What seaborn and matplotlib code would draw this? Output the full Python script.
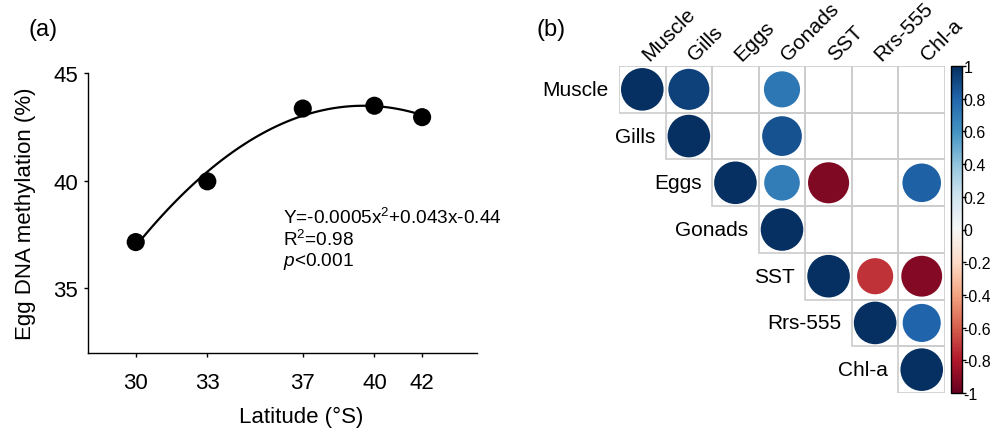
import numpy as np
import pandas as pd
import matplotlib
matplotlib.use("Agg")
import matplotlib.pyplot as plt
from matplotlib.patches import Rectangle
import seaborn as sns

# ---------------- data ----------------
latitude = [30, 33, 37, 40, 42]
methylation = [37.15, 39.97, 43.35, 43.48, 42.95]
x_ticks = [30, 33, 37, 40, 42]
y_ticks = [35, 40, 45]

variables = ["Muscle", "Gills", "Eggs", "Gonads", "SST", "Rrs-555", "Chl-a"]
nan = np.nan
corr = [
    [1.00, 0.93, nan, 0.72, nan, nan, nan],
    [nan, 1.00, nan, 0.87, nan, nan, nan],
    [nan, nan, 1.00, 0.70, -0.93, nan, 0.82],
    [nan, nan, nan, 1.00, nan, nan, nan],
    [nan, nan, nan, nan, 1.00, -0.72, -0.92],
    [nan, nan, nan, nan, nan, 1.00, 0.80],
    [nan, nan, nan, nan, nan, nan, 1.00],
]
cbar_ticks = [-1, -0.8, -0.6, -0.4, -0.2, 0, 0.2, 0.4, 0.6, 0.8, 1]
cbar_labels = ["-1", "-0.8", "-0.6", "-0.4", "-0.2", "0", "0.2", "0.4", "0.6", "0.8", "1"]

# ---------------- style ----------------
sns.set_theme(style="white")
plt.rcParams["font.family"] = ["Liberation Sans", "DejaVu Sans"]
plt.rcParams["mathtext.fontset"] = "custom"
plt.rcParams["mathtext.rm"] = "Liberation Sans"
plt.rcParams["mathtext.it"] = "Liberation Sans:italic"
for k in ["text.color", "axes.labelcolor", "xtick.color", "ytick.color"]:
    plt.rcParams[k] = "black"

W, H = 990, 431
fig = plt.figure(figsize=(W / 100, H / 100), dpi=100)

# ---------------- panel (a) ----------------
axa = fig.add_axes([88 / W, 1 - 354 / H, 389 / W, 280 / H])
df_a = pd.DataFrame({"lat": latitude, "meth": methylation})
sns.regplot(data=df_a, x="lat", y="meth", order=2, ci=None, scatter=False,
            line_kws=dict(color="black", lw=1.6), ax=axa)
sns.scatterplot(data=df_a, x="lat", y="meth", color="black", s=170,
                edgecolor="none", ax=axa, zorder=3)
axa.set_xlim(28.0, 44.3)
axa.set_ylim(32, 45)
axa.set_xticks(x_ticks)
axa.set_yticks(y_ticks)
axa.tick_params(axis="both", labelsize=16, length=3, width=1, color="black",
                labelcolor="black", direction="out", bottom=True, left=True)
axa.tick_params(axis="x", pad=11)
axa.tick_params(axis="y", pad=4)
for s in ["top", "right"]:
    axa.spines[s].set_visible(False)
for s in ["left", "bottom"]:
    axa.spines[s].set_color("black")
    axa.spines[s].set_linewidth(1)
axa.set_xlabel("Latitude (°S)", fontsize=16, color="black")
axa.xaxis.set_label_coords((301 - 88) / 389, -(407 - 354) / 280)
axa.set_ylabel("Egg DNA methylation (%)", fontsize=16, color="black")
axa.yaxis.set_label_coords(-(88 - 36) / 389, (354 - 214) / 280)
txt_kw = dict(transform=fig.transFigure, fontsize=13.7, va="center", ha="left",
              color="black")
axa.text(283 / W, 1 - 218 / H, "Y=-0.0005x$^2$+0.043x-0.44", **txt_kw)
axa.text(283 / W, 1 - 240 / H, "R$^2$=0.98", **txt_kw)
axa.text(283 / W, 1 - 262 / H, "$p$<0.001", **txt_kw)

# ---------------- panel (b) ----------------
axb = fig.add_axes([619 / W, 1 - 394 / H, 326 / W, 327 / H])
n = len(variables)
rows, cols, vals = [], [], []
for i in range(n):
    for j in range(n):
        v = corr[i][j]
        if not np.isnan(v):
            rows.append(i)
            cols.append(j)
            vals.append(v)
df_b = pd.DataFrame({"row": rows, "col": cols, "r": vals})
df_b["absr"] = df_b["r"].abs()

for i in range(n):
    for j in range(i, n):
        axb.add_patch(Rectangle((j - 0.5, i - 0.5), 1, 1, fill=False,
                                edgecolor="#cccccc", lw=1.2, zorder=1))

sns.scatterplot(data=df_b, x="col", y="row", hue="r", size="absr",
                palette="RdBu", hue_norm=(-1, 1), sizes=(0, 940), size_norm=(0, 1),
                edgecolor="none", legend=False, ax=axb, zorder=3)
axb.set_xlim(-0.5, n - 0.5)
axb.set_ylim(n - 0.5, -0.5)
axb.set_axis_off()

for i, name in enumerate(variables):
    axb.text(i - 0.72, i, name, ha="right", va="center", fontsize=15, color="black")
    axb.text(i + 0.2, -0.55, name, ha="left", va="bottom", fontsize=15,
             rotation=45, rotation_mode="anchor", color="black")

# colorbar
cax = fig.add_axes([951 / W, 1 - 394 / H, 11 / W, 327 / H])
sm = matplotlib.cm.ScalarMappable(cmap="RdBu", norm=matplotlib.colors.Normalize(-1, 1))
cb = fig.colorbar(sm, cax=cax, ticks=cbar_ticks)
cb.ax.set_yticklabels(cbar_labels)
cb.ax.tick_params(labelsize=11.5, length=3, width=1, pad=-2, color="black",
                  labelcolor="black")
cb.outline.set_edgecolor("black")
cb.outline.set_linewidth(1)

# panel labels
fig.text(28 / W, 1 - 30 / H, "(a)", fontsize=17, va="center", ha="left", color="black")
fig.text(537 / W, 1 - 30 / H, "(b)", fontsize=17, va="center", ha="left", color="black")

fig.savefig("out.png", dpi=100)
